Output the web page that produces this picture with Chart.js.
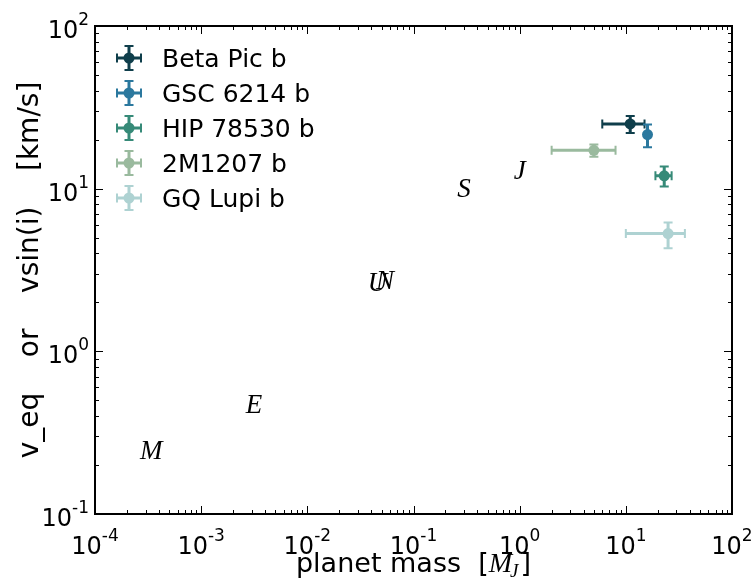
<!DOCTYPE html>
<html>
<head>
<meta charset="utf-8">
<script src="https://cdn.jsdelivr.net/npm/chart.js@4.4.0/dist/chart.umd.min.js"></script>
<style>
  html, body { margin: 0; padding: 0; background: #fff; }
  canvas { display: block; }
</style>
</head>
<body>
<canvas id="chart" width="753" height="579"></canvas>
<script>
// young directly imaged companions
const planetNames = ['Beta Pic b', 'GSC 6214 b', 'HIP 78530 b', '2M1207 b', 'GQ Lupi b'];
const planetColors = ['#0f3e4b', '#2b789e', '#368a78', '#9aba9e', '#aed2d2'];
const planetMass = [11, 16, 23, 5, 25];
const massErrLow = [5, 0, 4, 3, 15];
const massErrHigh = [4, 0, 4, 3, 11];
const planetVsini = [25, 21.5, 12, 17.2, 5.3];
const vsiniErrLow = [3, 3.5, 1.7, 1.5, 1.0];
const vsiniErrHigh = [3, 3.3, 1.7, 1.5, 0.9];

// solar system planets
const solarLetters = ['M', 'E', 'U', 'N', 'S', 'J'];
const solarMass = [3.38e-4, 3.15e-3, 0.0457, 0.054, 0.299, 1.0];
const solarVeq = [0.241, 0.465, 2.59, 2.68, 9.87, 12.6];

const xTickExps = [-4, -3, -2, -1, 0, 1, 2];
const yTickExps = [-1, 0, 1, 2];
const xTitle = 'planet mass  [';
const yTitle = 'v_eq    or    vsin(i)    [km/s]';

const SANS = '"DejaVu Sans", sans-serif';
const SERIF = '"Liberation Serif", "DejaVu Serif", serif';

function drawCross(ctx, color, cx, cy, x0, x1, y0, y1) {
    ctx.strokeStyle = color;
    ctx.lineWidth = 3;
    ctx.beginPath();
    if (x0 !== x1) { ctx.moveTo(x0, cy); ctx.lineTo(x1, cy); }
    if (y0 !== y1) { ctx.moveTo(cx, y0); ctx.lineTo(cx, y1); }
    ctx.stroke();
    ctx.lineWidth = 2;
    ctx.beginPath();
    if (x0 !== x1) {
        ctx.moveTo(x0, cy - 4.5); ctx.lineTo(x0, cy + 4.5);
        ctx.moveTo(x1, cy - 4.5); ctx.lineTo(x1, cy + 4.5);
    }
    if (y0 !== y1) {
        ctx.moveTo(cx - 4.5, y0); ctx.lineTo(cx + 4.5, y0);
        ctx.moveTo(cx - 4.5, y1); ctx.lineTo(cx + 4.5, y1);
    }
    ctx.stroke();
}

function drawErrorBars(chart) {
    const ctx = chart.ctx;
    const xs = chart.scales.x;
    const ys = chart.scales.y;
    ctx.save();
    planetNames.forEach((name, i) => {
        const cx = xs.getPixelForValue(planetMass[i]);
        const cy = ys.getPixelForValue(planetVsini[i]);
        const x0 = xs.getPixelForValue(planetMass[i] - massErrLow[i]);
        const x1 = xs.getPixelForValue(planetMass[i] + massErrHigh[i]);
        const y0 = ys.getPixelForValue(planetVsini[i] + vsiniErrHigh[i]);
        const y1 = ys.getPixelForValue(planetVsini[i] - vsiniErrLow[i]);
        drawCross(ctx, planetColors[i], cx, cy, x0, x1, y0, y1);
    });
    ctx.restore();
}

function drawPowerLabel(ctx, exp, x, baseline, align) {
    ctx.font = '24px ' + SANS;
    const base = '10';
    const sup = String(exp);
    const wBase = ctx.measureText(base).width;
    ctx.font = '17px ' + SANS;
    const wSup = ctx.measureText(sup).width;
    const total = wBase + wSup;
    let left = x - total / 2;
    if (align === 'right') left = x - total;
    ctx.textAlign = 'left';
    ctx.textBaseline = 'alphabetic';
    ctx.font = '24px ' + SANS;
    ctx.fillText(base, left, baseline);
    ctx.font = '17px ' + SANS;
    ctx.fillText(sup, left + wBase, baseline - 13);
}

function drawAxes(chart) {
    const ctx = chart.ctx;
    const area = chart.chartArea;
    const xs = chart.scales.x;
    const ys = chart.scales.y;
    ctx.save();
    ctx.fillStyle = '#000';
    ctx.strokeStyle = '#000';

    // inward ticks on all four sides
    ctx.lineWidth = 1;
    ctx.beginPath();
    for (let k = -4; k < 2; k++) {
        for (let m = 1; m <= 9; m++) {
            const px = Math.round(xs.getPixelForValue(m * Math.pow(10, k))) + 0.5;
            const len = m === 1 ? 8 : 4;
            ctx.moveTo(px, area.bottom); ctx.lineTo(px, area.bottom - len);
            ctx.moveTo(px, area.top); ctx.lineTo(px, area.top + len);
        }
    }
    for (let k = -1; k < 2; k++) {
        for (let m = 1; m <= 9; m++) {
            const py = Math.round(ys.getPixelForValue(m * Math.pow(10, k))) + 0.5;
            const len = m === 1 ? 8 : 4;
            ctx.moveTo(area.left, py); ctx.lineTo(area.left + len, py);
            ctx.moveTo(area.right, py); ctx.lineTo(area.right - len, py);
        }
    }
    ctx.stroke();

    ctx.lineWidth = 2;
    ctx.strokeRect(area.left, area.top, area.right - area.left, area.bottom - area.top);

    // tick labels
    xTickExps.forEach(e => {
        drawPowerLabel(ctx, e, xs.getPixelForValue(Math.pow(10, e)), area.bottom + 40, 'center');
    });
    yTickExps.forEach(e => {
        drawPowerLabel(ctx, e, area.left - 6, ys.getPixelForValue(Math.pow(10, e)) + 12, 'right');
    });

    // x title with math part
    ctx.font = '27px ' + SANS;
    const w1 = ctx.measureText(xTitle).width;
    ctx.font = 'italic 28px ' + SERIF;
    const w2 = ctx.measureText('M').width;
    ctx.font = 'italic 19px ' + SERIF;
    const w3 = ctx.measureText('J').width;
    ctx.font = '27px ' + SANS;
    const w4 = ctx.measureText(']').width;
    let tx = (area.left + area.right) / 2 - (w1 + w2 + w3 + w4) / 2;
    const tb = 572;
    ctx.textAlign = 'left';
    ctx.textBaseline = 'alphabetic';
    ctx.fillText(xTitle, tx, tb);
    tx += w1;
    ctx.font = 'italic 28px ' + SERIF;
    ctx.fillText('M', tx, tb);
    tx += w2;
    ctx.font = 'italic 19px ' + SERIF;
    ctx.fillText('J', tx - 2, tb + 5);
    tx += w3;
    ctx.font = '27px ' + SANS;
    ctx.fillText(']', tx, tb);

    // y title
    ctx.save();
    ctx.translate(31, (area.top + area.bottom) / 2);
    ctx.rotate(-Math.PI / 2);
    ctx.font = '28px ' + SANS;
    ctx.textAlign = 'center';
    ctx.textBaseline = 'middle';
    ctx.fillText(yTitle, 0, 0);
    ctx.restore();

    ctx.restore();
}

function drawSolarLetters(chart) {
    const ctx = chart.ctx;
    const xs = chart.scales.x;
    const ys = chart.scales.y;
    ctx.save();
    ctx.fillStyle = '#000';
    ctx.font = 'italic 27px ' + SERIF;
    ctx.textAlign = 'center';
    ctx.textBaseline = 'middle';
    solarLetters.forEach((letter, i) => {
        ctx.fillText(letter, xs.getPixelForValue(solarMass[i]), ys.getPixelForValue(solarVeq[i]));
    });
    ctx.restore();
}

function drawLegend(chart) {
    const ctx = chart.ctx;
    ctx.save();
    planetNames.forEach((name, i) => {
        const y = 58 + 35 * i;
        const x = 129;
        drawCross(ctx, planetColors[i], x, y, x - 12, x + 12, y - 12, y + 12);
        ctx.fillStyle = planetColors[i];
        ctx.beginPath();
        ctx.arc(x, y, 5.5, 0, Math.PI * 2);
        ctx.fill();
        ctx.fillStyle = '#000';
        ctx.font = '25px ' + SANS;
        ctx.textAlign = 'left';
        ctx.textBaseline = 'alphabetic';
        ctx.fillText(name, 162, y + 9);
    });
    ctx.restore();
}

const decorPlugin = {
    id: 'decor',
    beforeDatasetsDraw(chart) {
        drawErrorBars(chart);
    },
    afterDraw(chart) {
        drawSolarLetters(chart);
        drawAxes(chart);
        drawLegend(chart);
    }
};

const datasets = planetNames.map((name, i) => ({
    label: name,
    data: [{ x: planetMass[i], y: planetVsini[i] }],
    backgroundColor: planetColors[i],
    borderColor: planetColors[i],
    borderWidth: 0,
    pointRadius: 5.5,
    pointHoverRadius: 5.5
}));

datasets.push({
    label: 'Solar system',
    data: solarMass.map((m, i) => ({ x: m, y: solarVeq[i] })),
    pointRadius: 0,
    pointHoverRadius: 0
});

new Chart(document.getElementById('chart').getContext('2d'), {
    type: 'scatter',
    data: { datasets: datasets },
    options: {
        responsive: false,
        animation: false,
        devicePixelRatio: 1,
        layout: { padding: { left: 95, right: 21, top: 26, bottom: 65 } },
        plugins: {
            legend: { display: false },
            tooltip: { enabled: false }
        },
        scales: {
            x: { type: 'logarithmic', min: 1e-4, max: 100, display: false },
            y: { type: 'logarithmic', min: 0.1, max: 100, display: false }
        }
    },
    plugins: [decorPlugin]
});
</script>
</body>
</html>
